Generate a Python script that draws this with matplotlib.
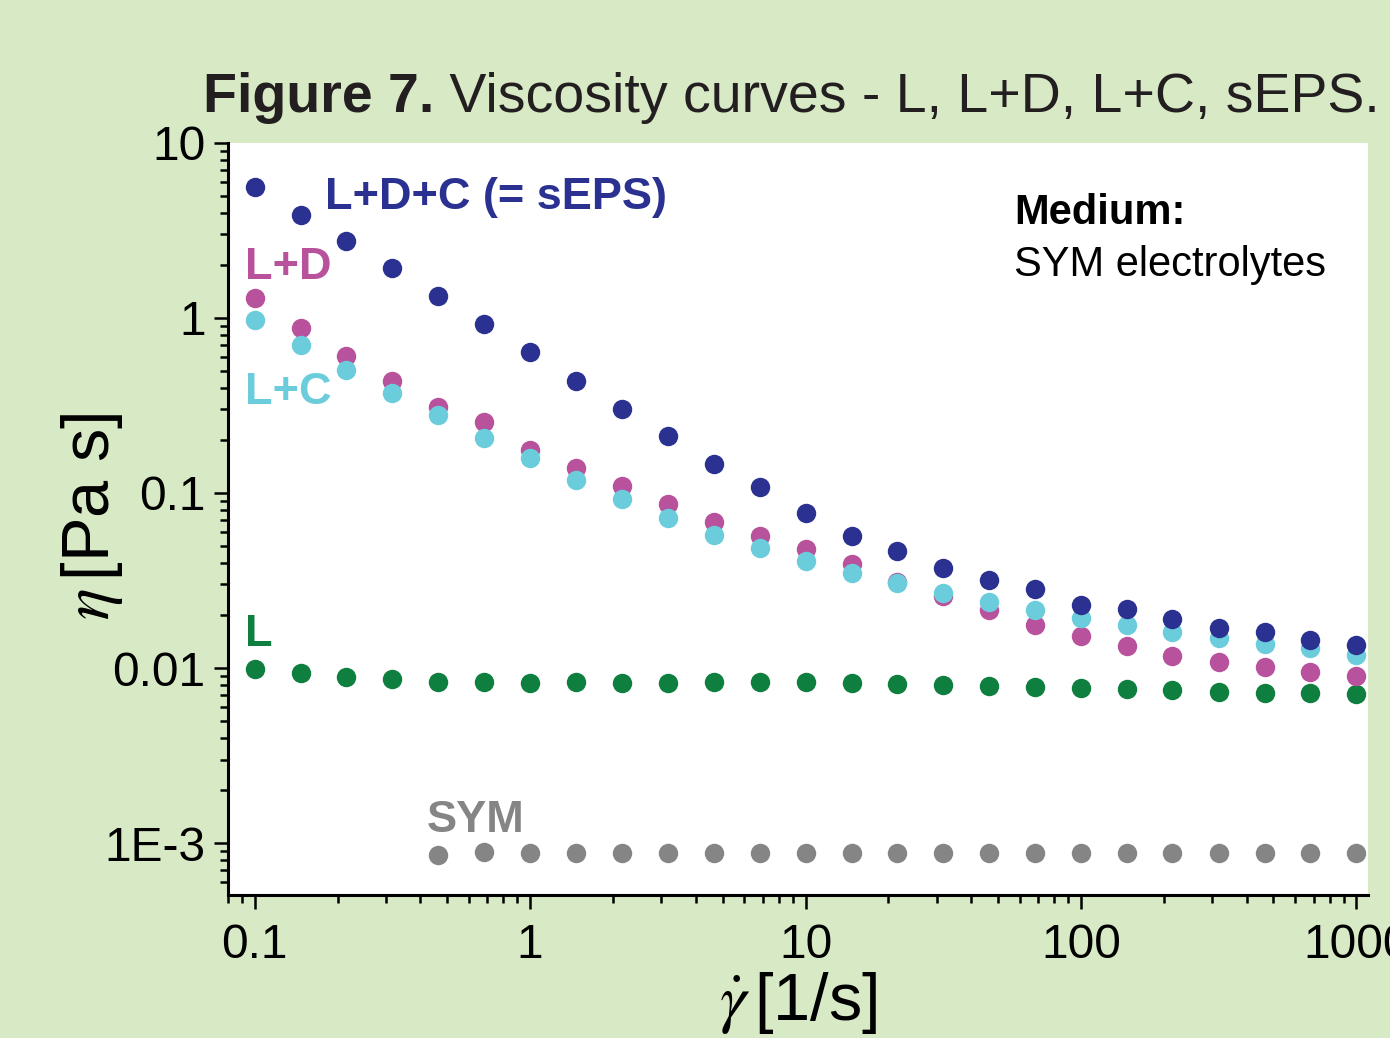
import numpy as np
import matplotlib.pyplot as plt
from matplotlib.ticker import FixedLocator, LogLocator, NullFormatter, FixedFormatter

plt.rcParams['font.family'] = ['Liberation Sans', 'DejaVu Sans']
plt.rcParams['mathtext.fontset'] = 'stix'

# shear rates (1/s), 6 points per decade
shear = [0.1, 0.147, 0.215, 0.316, 0.464, 0.681,
         1.0, 1.47, 2.15, 3.16, 4.64, 6.81,
         10.0, 14.7, 21.5, 31.6, 46.4, 68.1,
         100.0, 147.0, 215.0, 316.0, 464.0, 681.0, 1000.0]

# viscosities (Pa s)
eta_seps = [5.6, 3.88, 2.75, 1.93, 1.34, 0.924,
            0.64, 0.436, 0.302, 0.212, 0.1465, 0.108,
            0.0769, 0.0568, 0.0467, 0.0373, 0.0318, 0.0283,
            0.0229, 0.0217, 0.0190, 0.0169, 0.0161, 0.0145, 0.0135]
eta_ld = [1.30, 0.877, 0.607, 0.436, 0.310, 0.254,
          0.176, 0.139, 0.1096, 0.0865, 0.0683, 0.0568,
          0.0479, 0.0393, 0.031, 0.0258, 0.0214, 0.0176,
          0.0152, 0.0134, 0.0117, 0.0108, 0.0101, 0.0095, 0.0090]
eta_lc = [0.975, 0.701, 0.505, 0.373, 0.279, 0.206,
          0.158, 0.119, 0.0924, 0.0720, 0.0575, 0.0485,
          0.0409, 0.0349, 0.0306, 0.0268, 0.0238, 0.0214,
          0.0193, 0.0176, 0.0161, 0.0148, 0.0137, 0.0130, 0.0119]
eta_l = [0.00987, 0.00935, 0.00889, 0.00865, 0.00832, 0.00832,
         0.0082, 0.00832, 0.0082, 0.0082, 0.00832, 0.00832,
         0.00832, 0.0082, 0.0081, 0.0080, 0.0079, 0.0078,
         0.0077, 0.0076, 0.0075, 0.0073, 0.0072, 0.0072, 0.0071]
# buffer only measured from 0.464 1/s on
shear_sym = shear[4:]
eta_sym = [0.00085, 0.00089, 0.00088, 0.00088, 0.00088, 0.00088,
           0.00088, 0.00088, 0.00088, 0.00088, 0.00088, 0.00088,
           0.00088, 0.00088, 0.00088, 0.00088, 0.00088, 0.00088,
           0.00088, 0.00088, 0.00088]

xticks = [0.1, 1, 10, 100, 1000]
xticklabels = ['0.1', '1', '10', '100', '1000']
yticks = [0.001, 0.01, 0.1, 1, 10]
yticklabels = ['1E-3', '0.01', '0.1', '1', '10']

c_seps = '#2b3190'
c_ld = '#b8529c'
c_lc = '#6bcddc'
c_l = '#0e7f3e'
c_sym = '#858585'
bg = '#d8e9c6'

fig = plt.figure(figsize=(13.9, 10.38), dpi=100, facecolor=bg)
ax = fig.add_axes([0.164, 0.1378, 0.820, 0.7245])
ax.set_facecolor('white')

ms = 14
ax.plot(shear_sym, eta_sym, 'o', color=c_sym, ms=ms, mew=0)
ax.plot(shear, eta_l, 'o', color=c_l, ms=ms, mew=0)
ax.plot(shear, eta_ld, 'o', color=c_ld, ms=ms, mew=0)
ax.plot(shear, eta_lc, 'o', color=c_lc, ms=ms, mew=0)
ax.plot(shear, eta_seps, 'o', color=c_seps, ms=ms, mew=0)

ax.set_xscale('log')
ax.set_yscale('log')
ax.set_xlim(0.08, 1.1e3)
ax.set_ylim(5.05e-4, 10)

# only left and bottom axis lines
for s in ['top', 'right']:
    ax.spines[s].set_visible(False)
for s in ['left', 'bottom']:
    ax.spines[s].set_linewidth(2.2)

ax.xaxis.set_major_locator(FixedLocator(xticks))
ax.xaxis.set_major_formatter(FixedFormatter(xticklabels))
ax.yaxis.set_major_locator(FixedLocator(yticks))
ax.yaxis.set_major_formatter(FixedFormatter(yticklabels))
ax.xaxis.set_minor_locator(LogLocator(base=10, subs=np.arange(2, 10), numticks=20))
ax.yaxis.set_minor_locator(LogLocator(base=10, subs=np.arange(2, 10), numticks=20))
ax.xaxis.set_minor_formatter(NullFormatter())
ax.yaxis.set_minor_formatter(NullFormatter())
ax.tick_params(which='major', direction='out', length=10, width=1.8, labelsize=34.5)
ax.tick_params(which='minor', direction='out', length=6, width=1.8)
ax.tick_params(axis='x', which='major', pad=10)
ax.tick_params(axis='y', which='major', pad=6)

ax.set_xlabel(r'$\dot{\gamma}\,$[1/s]', fontsize=48)
ax.set_ylabel(r'$\eta\,$[Pa s]', fontsize=48)
ax.xaxis.set_label_coords(0.5, -0.1)
ax.yaxis.set_label_coords(-0.09, 0.503)

# series names next to the curves
ax.text(0.18, 4.9, 'L+D+C (= sEPS)', color=c_seps, fontsize=32.5, fontweight='bold', va='center')
ax.text(0.092, 1.93, 'L+D', color=c_ld, fontsize=32.5, fontweight='bold', va='center')
ax.text(0.092, 0.373, 'L+C', color=c_lc, fontsize=32.5, fontweight='bold', va='center')
ax.text(0.092, 0.01545, 'L', color=c_l, fontsize=32.5, fontweight='bold', va='center')
ax.text(0.42, 0.00135, 'SYM', color=c_sym, fontsize=32.5, fontweight='bold', va='center')

ax.text(0.690, 0.907, 'Medium:', transform=ax.transAxes, fontsize=30, fontweight='bold', va='center')
ax.text(0.690, 0.838, 'SYM electrolytes', transform=ax.transAxes, fontsize=30, va='center')

# title: bold figure number followed by plain caption
t1 = fig.text(203 / 1390, 1 - 112 / 1038, 'Figure 7.', fontsize=40, fontweight='bold',
              color='#231f20', va='baseline')
ax.annotate(' Viscosity curves - L, L+D, L+C, sEPS.', xy=(1, 0), xycoords=t1,
            fontsize=40, color='#231f20', va='bottom', ha='left', annotation_clip=False)

fig.savefig('out.png', dpi=100, facecolor=bg)
